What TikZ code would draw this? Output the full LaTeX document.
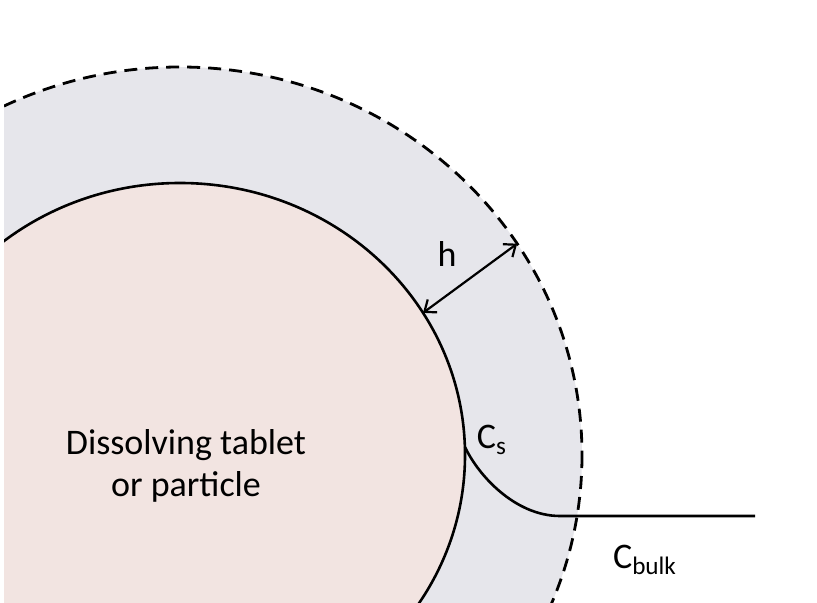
\documentclass[tikz,border=0pt]{standalone}
\usepackage{fontspec}
\setmainfont{Carlito}
\usepackage{xcolor}
\usepackage{tikz}
\usetikzlibrary{arrows.meta,calc}

\definecolor{tabletfill}{RGB}{242,228,225}
\definecolor{layerfill}{RGB}{230,230,235}

\begin{document}
\begin{tikzpicture}[x=0.5pt,y=-0.5pt,font=\fontsize{18}{21}\selectfont,
    rim/.style={line width=1.3pt},
    film/.style={line width=1.4pt,dash pattern=on 6.5pt off 4pt}]
\useasboundingbox (0,0) rectangle (817,603);
\clip (4,0) rectangle (817,603);

\coordinate (centre) at (180,455);
\fill[layerfill] (centre) ellipse [x radius=402,y radius=388];
\draw[film] (centre) ellipse [x radius=402,y radius=388];
\fill[tabletfill] (centre) ellipse [x radius=285,y radius=272];
\draw[rim] (centre) ellipse [x radius=285,y radius=272];

% diffusion layer thickness
\coordinate (hin) at ($(centre)+(-31.5:285 and 272)$);
\coordinate (hout) at ($(centre)+(-33:402 and 388)$);
\draw[line width=1.1pt,{Straight Barb[length=5pt,width=8pt]}-{Straight Barb[length=5pt,width=8pt]}] (hin) -- (hout);
\node (h) at (447,254) {h};

% concentration profile
\coordinate (surf) at (465,447);
\coordinate (edge) at (560,516);
\coordinate (bulkend) at (755,516);
\draw[rim] (surf) .. controls +(13,28) and +(-45,0) .. (edge) -- (bulkend);
\node (cs) at (492,440) {C\textsubscript{s}};
\node (cbulk) at (645,560) {C\textsubscript{bulk}};

\node[align=center] (tablet) at (186,466) {Dissolving tablet\\or particle};
\end{tikzpicture}
\end{document}
